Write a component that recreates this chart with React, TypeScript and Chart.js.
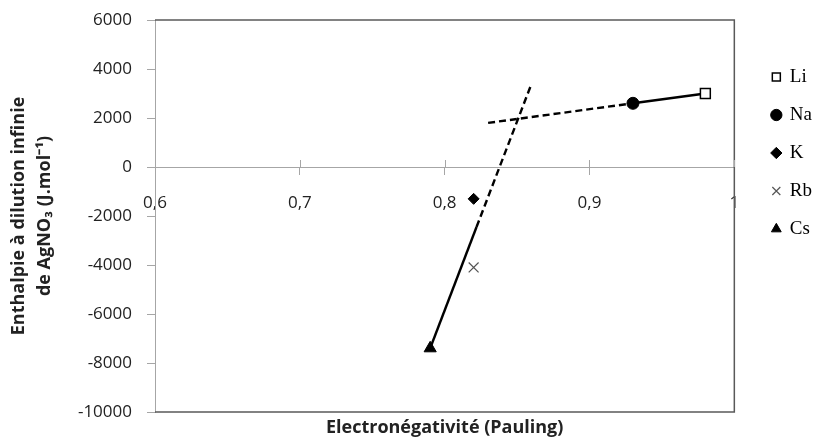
import React, { useEffect, useRef } from 'react';
import { Chart, registerables } from 'chart.js';

Chart.register(...registerables);

// ---- data ----
const elements = ['Li', 'Na', 'K', 'Rb', 'Cs'];
const electronegativity = [0.98, 0.93, 0.82, 0.82, 0.79];
const enthalpy = [3000, 2600, -1300, -4100, -7400];

// trend lines (Li–Na and Cs–Rb–K), solid part and dashed extension
const upperSolidX = [0.93, 0.98];
const upperSolidY = [2600, 3000];
const upperDashedX = [0.83, 0.93];
const upperDashedY = [1800, 2600];
const lowerSolidX = [0.79, 0.822];
const lowerSolidY = [-7400, -2450];
const lowerDashedX = [0.822, 0.86];
const lowerDashedY = [-2450, 3400];

const xTickValues = [0.6, 0.7, 0.8, 0.9, 1];
const yTickValues = [-10000, -8000, -6000, -4000, -2000, 0, 2000, 4000, 6000];

const xTitle = 'Electronégativité (Pauling)';
const yTitle = ['Enthalpie à dilution infinie', 'de AgNO₃ (J.mol⁻¹)'];

// ---- styles ----
const markerStyle = [
  { pointStyle: 'rect', radius: 7, bg: '#ffffff', border: '#000000', width: 1.5 },
  { pointStyle: 'circle', radius: 6, bg: '#000000', border: '#000000', width: 1 },
  { pointStyle: 'rectRot', radius: 5.5, bg: '#000000', border: '#000000', width: 1 },
  { pointStyle: 'crossRot', radius: 7, bg: '#555555', border: '#555555', width: 1.2 },
  { pointStyle: 'triangle', radius: 7, bg: '#000000', border: '#000000', width: 1 },
];

const AXIS_GRAY = '#a6a6a6';
const FRAME = '#595959';
const TICK_FONT = { family: "'Open Sans', sans-serif", size: 17 };
const TITLE_FONT = { family: "'Open Sans', sans-serif", size: 18, weight: 'bold' as const };

const zip = (xs: number[], ys: number[]) => xs.map((x, i) => ({ x, y: ys[i] }));
const fmtX = (v: number) => String(parseFloat(v.toFixed(2))).replace('.', ',');

const framePlugin = {
  id: 'frame',
  beforeDatasetsDraw(chart: any) {
    const { ctx, chartArea, scales } = chart;
    const { left, top, right, bottom } = chartArea;
    ctx.save();
    ctx.strokeStyle = FRAME;
    ctx.lineWidth = 1.5;
    ctx.beginPath();
    ctx.moveTo(left, top);
    ctx.lineTo(right, top);
    ctx.lineTo(right, bottom);
    ctx.lineTo(left, bottom);
    ctx.stroke();
    // upper half of the crossing tick marks on the zero axis
    const y0 = scales.y.getPixelForValue(0);
    ctx.strokeStyle = AXIS_GRAY;
    ctx.lineWidth = 1;
    ctx.beginPath();
    scales.x.ticks.forEach((t: any) => {
      const px = Math.round(scales.x.getPixelForValue(t.value)) + 0.5;
      ctx.moveTo(px, y0 - 7);
      ctx.lineTo(px, y0);
    });
    ctx.stroke();
    ctx.restore();
  },
};

export default function App() {
  const canvasRef = useRef<HTMLCanvasElement | null>(null);

  useEffect(() => {
    document.body.style.margin = '0';
    const canvas = canvasRef.current;
    if (!canvas) return;

    const pointSets = elements.map((name, i) => ({
      label: name,
      data: [{ x: electronegativity[i], y: enthalpy[i] }],
      pointStyle: markerStyle[i].pointStyle,
      pointRadius: markerStyle[i].radius,
      pointBackgroundColor: markerStyle[i].bg,
      pointBorderColor: markerStyle[i].border,
      pointBorderWidth: markerStyle[i].width,
      backgroundColor: markerStyle[i].bg,
      borderColor: markerStyle[i].border,
      borderWidth: markerStyle[i].width,
      showLine: false,
    }));

    const line = (label: string, xs: number[], ys: number[], dashed: boolean) => ({
      label,
      data: zip(xs, ys),
      showLine: true,
      pointRadius: 0,
      borderColor: '#000000',
      borderWidth: 2.4,
      borderDash: dashed ? [7, 4] : [],
      fill: false,
    });

    const noVerticalPadding = (s: any) => {
      s.paddingTop = 0;
      s.paddingBottom = 0;
    };

    const chart = new Chart(canvas, {
      type: 'scatter',
      data: {
        datasets: [
          ...pointSets,
          line('upperSolid', upperSolidX, upperSolidY, false),
          line('upperDashed', upperDashedX, upperDashedY, true),
          line('lowerSolid', lowerSolidX, lowerSolidY, false),
          line('lowerDashed', lowerDashedX, lowerDashedY, true),
        ] as any,
      },
      options: {
        responsive: false,
        animation: false,
        layout: { padding: { top: 20, right: 0, bottom: 0, left: 0 } },
        plugins: {
          tooltip: { enabled: false },
          legend: {
            display: true,
            position: 'right',
            align: 'start',
            title: { display: true, text: '', padding: 0, font: { size: 10, lineHeight: '28.5px' } },
            labels: {
              usePointStyle: true,
              boxWidth: 8,
              boxHeight: 8,
              padding: 19,
              color: '#000000',
              font: { family: "'Liberation Serif', serif", size: 19 },
              filter: (item: any) => item.datasetIndex < elements.length,
            },
          },
        },
        scales: {
          x: {
            type: 'linear',
            position: { y: 0 } as any,
            min: 0.6,
            max: 1,
            afterBuildTicks: (s: any) => {
              s.ticks = xTickValues.map((v) => ({ value: v }));
            },
            ticks: {
              color: '#222222',
              font: TICK_FONT,
              padding: 19,
              maxRotation: 0,
              callback: (v: any) => fmtX(Number(v)),
            },
            grid: { drawOnChartArea: false, tickLength: 7, color: AXIS_GRAY },
            border: { color: AXIS_GRAY, width: 1 },
          },
          xTitle: {
            type: 'linear',
            position: 'bottom',
            min: 0.6,
            max: 1,
            ticks: { display: false },
            grid: { display: false },
            border: { display: false },
            title: { display: true, text: xTitle, color: '#222222', font: TITLE_FONT, padding: { top: 0, bottom: 4 } },
            afterFit: (s: any) => {
              s.height = 31;
            },
          },
          y: {
            type: 'linear',
            position: 'left',
            min: -10000,
            max: 6000,
            afterBuildTicks: (s: any) => {
              s.ticks = yTickValues.map((v) => ({ value: v }));
            },
            ticks: {
              color: '#222222',
              font: TICK_FONT,
              padding: 15,
              callback: (v: any) => String(v),
            },
            grid: { drawOnChartArea: false, tickLength: 8, color: AXIS_GRAY },
            border: { color: AXIS_GRAY, width: 1 },
            title: {
              display: true,
              text: yTitle,
              color: '#222222',
              font: { ...TITLE_FONT, lineHeight: '26px' },
              padding: { top: 6, bottom: 0 },
            },
            afterFit: (s: any) => {
              s.width = 155;
              noVerticalPadding(s);
            },
          },
          ySpacer: {
            type: 'linear',
            position: 'right',
            min: 0,
            max: 1,
            ticks: { display: false },
            grid: { display: false },
            border: { display: false },
            afterFit: (s: any) => {
              s.width = 19;
              noVerticalPadding(s);
            },
          },
        },
      },
      plugins: [framePlugin],
    });

    return () => chart.destroy();
  }, []);

  return (
    <div style={{ width: 822, height: 443 }}>
      <canvas ref={canvasRef} width={822} height={443} style={{ display: 'block' }} />
    </div>
  );
}
